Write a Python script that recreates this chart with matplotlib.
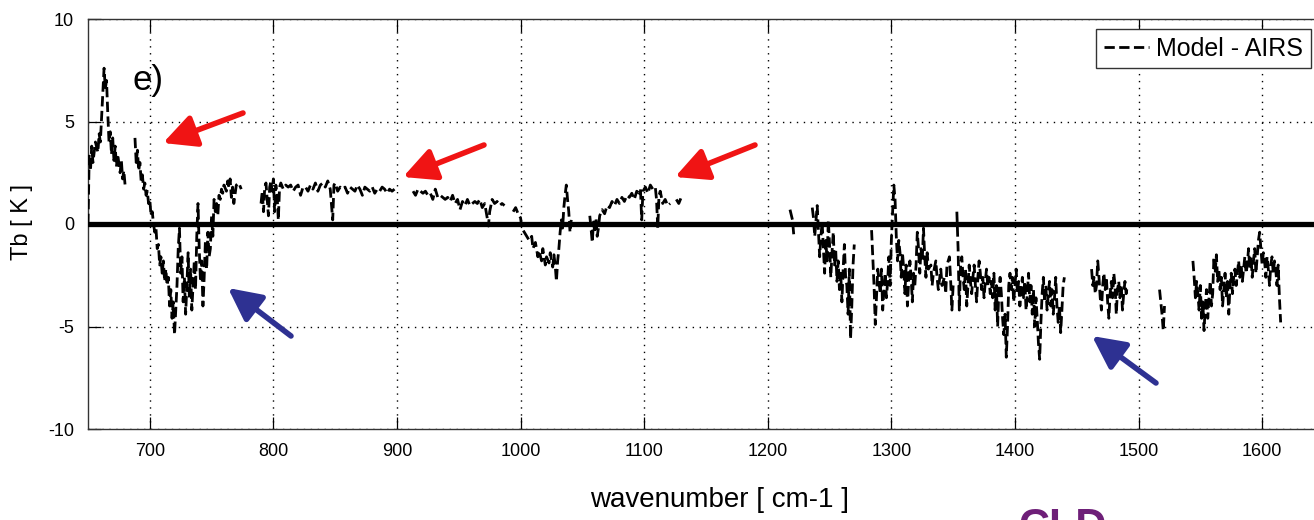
import numpy as np
import matplotlib
matplotlib.use("Agg")
import matplotlib.pyplot as plt

plt.rcParams["font.family"] = ["Liberation Sans", "DejaVu Sans"]
plt.rcParams["axes.unicode_minus"] = False

# Model - AIRS brightness temperature difference, one list pair per spectral band
b1_wn = [650, 651, 652, 653, 654, 656, 658, 659, 660, 661, 662, 663, 664, 665, 666, 667,
         668, 669, 670, 671, 672, 673, 674, 676, 677, 678, 679, 680]
b1_tb = [0.0, 3.4, 2.6, 3.8, 3.0, 4.0, 3.5, 4.4, 4.0, 5.2, 6.5, 7.6, 6.6, 7.0, 5.4, 4.0,
         4.5, 3.4, 4.2, 3.1, 3.8, 2.8, 3.4, 2.5, 3.1, 2.2, 2.6, 1.9]

b2_wn = [688, 689, 690, 691, 692, 693, 694, 695, 696, 697, 698, 699, 700, 701, 702, 703,
         704, 705, 706, 707, 708, 709, 710, 711, 712, 713, 714, 715, 716, 717, 718, 719,
         720, 721, 722, 723, 724, 725, 726, 727, 728, 729, 730, 731, 732, 733, 734, 735,
         736, 737, 738, 739, 740, 741, 742, 743, 744, 745, 746, 747, 748, 749, 750, 751,
         752, 753, 754, 755, 756, 757, 758, 759, 760, 762, 763, 764, 765, 766, 767, 768,
         770, 772, 774]
b2_tb = [4.2, 3.0, 3.6, 2.6, 3.0, 2.1, 2.4, 1.7, 2.0, 1.4, 1.6, 1.0, 1.2, 0.4, 0.6, 0.0,
         -0.4, -0.2, -1.2, -1.0, -2.0, -1.6, -2.4, -1.8, -2.8, -2.2, -3.0, -2.6, -4.0, -3.2, -4.6, -3.8,
         -5.4, -4.2, -3.0, -1.2, -0.2, -2.4, -1.6, -3.8, -2.6, -4.4, -3.0, -1.4, -3.6, -2.2, -4.2, -3.0,
         -1.8, -3.2, -0.6, 1.0, -1.2, -2.8, -1.8, -4.0, -2.6, -0.8, -2.2, -0.4, -1.6, -1.2, 0.4, -0.6,
         1.2, 0.6, 1.0, 0.4, 1.4, 1.2, 1.7, 1.5, 1.9, 1.6, 2.1, 1.8, 2.2, 1.3, 1.8, 1.0,
         1.9, 2.0, 1.7]

b3_wn = [790, 791, 792, 793, 794, 795, 796, 797, 798, 799, 800, 801, 802, 803, 804, 805,
         806, 808, 810, 812, 814, 816, 818, 820, 822, 824, 826, 828, 830, 832, 834, 836,
         838, 840, 842, 844, 846, 848, 849, 850, 852, 854, 856, 858, 860, 862, 864, 866,
         868, 870, 872, 874, 876, 878, 880, 882, 884, 886, 888, 890, 892, 894, 896, 898]
b3_tb = [1.0, 1.6, 0.6, 1.8, 2.0, 1.2, 0.4, 1.8, 2.1, 1.6, 2.2, 0.6, 1.9, 1.4, 0.2, 1.8,
         2.0, 1.7, 1.9, 1.8, 1.9, 1.6, 1.8, 1.9, 1.4, 1.8, 1.8, 1.6, 1.9, 1.7, 2.0, 1.6,
         1.9, 2.0, 1.8, 2.1, 1.7, 0.2, 1.9, 2.0, 1.6, 1.8, 1.7, 1.8, 1.5, 1.8, 1.7, 1.6,
         1.9, 1.7, 1.4, 1.8, 1.7, 1.6, 1.8, 1.5, 1.7, 1.6, 1.8, 1.7, 1.5, 1.7, 1.6, 1.7]

b4_wn = [913, 915, 917, 919, 921, 923, 925, 927, 929, 931, 933, 935, 937, 939, 941, 943,
         945, 947, 949, 951, 953, 955, 957, 959, 961, 963, 965, 967, 969, 971, 973, 974,
         975, 977, 979, 981, 983, 985, 987]
b4_tb = [1.6, 1.4, 1.7, 1.6, 1.5, 1.6, 1.4, 1.5, 1.2, 1.7, 1.3, 1.4, 1.3, 1.2, 1.3, 1.1,
         1.4, 1.0, 1.2, 0.7, 1.1, 0.9, 1.2, 0.9, 1.0, 1.1, 1.0, 1.2, 0.8, 1.0, 0.3, -0.1,
         0.6, 1.2, 1.0, 1.1, 0.9, 1.0, 0.9]

b5_wn = [994, 996, 998, 1000, 1001, 1003, 1005, 1007, 1009, 1010, 1012, 1014, 1015, 1017,
         1018, 1020, 1021, 1023, 1024, 1026, 1027, 1028, 1029, 1030, 1031, 1032, 1033, 1034,
         1035, 1036, 1037, 1038, 1039, 1040, 1041]
b5_tb = [0.6, 0.8, 0.5, 0.3, -0.2, -0.4, -0.6, -0.8, -0.6, -1.2, -0.9, -1.6, -1.3, -1.8,
         -1.2, -2.0, -1.6, -1.9, -1.4, -2.1, -1.5, -2.0, -2.8, -1.8, -1.2, -0.4, 0.2, -0.2,
         0.8, 1.4, 1.9, 1.2, 0.6, -0.4, 0.2]

b6_wn = [1056, 1057, 1058, 1059, 1060, 1061, 1062, 1063, 1064, 1066, 1068, 1070, 1072, 1074,
         1076, 1078, 1080, 1082, 1084, 1086, 1088, 1090, 1092, 1094, 1096, 1097, 1098, 1099,
         1101, 1103, 1105, 1107, 1109, 1110, 1111, 1112, 1113, 1115, 1117, 1119, 1121]
b6_tb = [0.4, -0.2, -0.9, 0.1, -0.4, 0.3, -0.6, -0.2, 0.4, 0.7, 0.5, 0.9, 0.8, 1.1,
         0.9, 1.2, 1.0, 1.3, 1.1, 1.4, 1.3, 1.5, 1.2, 1.6, 1.5, 1.7, 0.2, 1.6,
         1.8, 1.5, 1.9, 1.7, 1.8, 1.2, -0.2, 1.4, 1.6, 1.0, 1.2, 0.9, 1.0]

b7_wn = [1126, 1128, 1130]
b7_tb = [1.2, 1.0, 1.3]

b8_wn = [1218, 1220, 1221]
b8_tb = [0.7, 0.2, -0.5]

b9_wn = [1236, 1237, 1238, 1240, 1241, 1242, 1243, 1244, 1245, 1246, 1247, 1248, 1249, 1250,
         1251, 1252, 1253, 1254, 1255, 1256, 1257, 1258, 1259, 1260, 1261, 1262, 1263, 1264,
         1265, 1266, 1267, 1268, 1269, 1270]
b9_tb = [0.8, 0.3, -0.6, 0.9, -0.4, -1.6, -0.6, 0.1, -1.2, -2.4, -0.8, -1.8, 0.2, -1.0,
         -2.6, -1.4, -0.4, -2.0, -1.3, -2.8, -1.8, -3.2, -2.4, -3.8, -2.2, -1.0, -2.6, -3.0,
         -4.4, -2.2, -5.6, -4.0, -2.0, -1.0]

b10_wn = [1284, 1285, 1286, 1287, 1288, 1289, 1290, 1291, 1292, 1293, 1294, 1295, 1296, 1297,
          1298, 1299, 1300, 1301, 1302, 1303, 1304, 1305, 1306, 1307, 1308, 1309, 1310, 1311,
          1312, 1313, 1314, 1315, 1316, 1317, 1318, 1319, 1320, 1321, 1322, 1323, 1324, 1325,
          1326, 1327, 1328, 1329, 1330, 1332, 1333, 1334, 1336, 1337, 1338, 1340, 1341, 1343,
          1344, 1345, 1347, 1348, 1349, 1350]
b10_tb = [-0.3, -1.6, -3.0, -4.9, -3.6, -2.2, -2.8, -3.4, -2.2, -4.2, -3.2, -2.4, -3.6, -2.8,
          -1.6, -3.0, -0.8, 0.6, 1.9, 1.2, -0.6, -1.8, -0.8, -1.4, -2.6, -1.4, -2.2, -3.4,
          -2.0, -4.0, -2.8, -1.8, -2.6, -3.8, -2.4, -3.0, -2.0, -0.4, -1.2, -2.4, -1.2, -1.8,
          -0.2, -1.6, -2.6, -1.4, -2.2, -2.0, -3.0, -2.4, -1.8, -2.6, -3.2, -2.2, -3.0, -2.6,
          -3.4, -2.0, -1.6, -2.8, -4.2, -3.0]

b11_wn = [1353, 1354, 1355, 1356, 1357, 1358, 1359, 1360, 1361, 1362, 1363, 1364, 1365, 1366,
          1367, 1368, 1369, 1370, 1371, 1372, 1373, 1374, 1375, 1376, 1377, 1378, 1379, 1380,
          1381, 1382, 1383, 1384, 1385, 1386, 1387, 1388, 1389, 1390, 1391, 1392, 1393, 1394,
          1395, 1396, 1397, 1398, 1399, 1400, 1401, 1402, 1403, 1404, 1405, 1406, 1407, 1408,
          1409, 1410, 1411, 1412, 1413, 1414, 1415, 1416, 1417, 1418, 1419, 1420, 1421, 1422,
          1423, 1424, 1425, 1426, 1427, 1428, 1429, 1430, 1431, 1432, 1433, 1434, 1435, 1436,
          1437, 1438, 1439, 1440]
b11_tb = [0.6, -1.2, -4.2, -2.0, -1.6, -2.6, -3.2, -2.2, -4.0, -3.0, -2.0, -2.8, -3.4, -2.6,
          -2.0, -3.0, -3.8, -2.6, -1.8, -2.4, -3.2, -2.6, -3.6, -2.8, -2.2, -3.0, -2.6, -3.4,
          -2.8, -3.6, -2.4, -4.2, -3.0, -5.0, -3.2, -2.6, -3.4, -4.6, -5.4, -4.4, -6.5, -5.0,
          -3.0, -2.4, -3.2, -2.6, -3.8, -3.0, -2.2, -3.4, -2.8, -4.0, -3.2, -2.6, -3.6, -2.8,
          -4.2, -3.4, -2.4, -3.8, -3.0, -4.4, -3.2, -5.0, -3.6, -4.6, -5.8, -6.6, -4.8, -3.4,
          -2.6, -3.8, -3.0, -4.2, -3.4, -2.8, -4.0, -3.2, -4.4, -3.6, -2.6, -4.0, -4.8, -4.0,
          -5.3, -4.2, -3.0, -2.6]

b12_wn = [1462, 1463, 1464, 1465, 1466, 1467, 1468, 1469, 1470, 1471, 1472, 1473, 1474, 1475,
          1476, 1477, 1478, 1479, 1480, 1481, 1482, 1483, 1484, 1485, 1486, 1487, 1488, 1489,
          1490, 1491]
b12_tb = [-2.2, -3.0, -2.6, -3.4, -3.0, -1.8, -2.6, -3.6, -4.2, -3.0, -2.4, -3.2, -2.6, -3.8,
          -4.6, -3.4, -2.8, -3.6, -2.4, -3.0, -4.4, -3.2, -2.8, -3.6, -3.0, -4.2, -3.4, -2.8,
          -3.4, -3.0]

b13_wn = [1517, 1518, 1519, 1520, 1521]
b13_tb = [-3.2, -3.8, -4.4, -5.2, -4.0]

b14_wn = [1544, 1545, 1546, 1547, 1548, 1549, 1550, 1551, 1552, 1553, 1554, 1555, 1556, 1557,
          1558, 1559, 1560, 1561, 1562, 1563, 1564, 1565, 1566, 1567, 1568, 1569, 1570, 1571,
          1572, 1573, 1574, 1575, 1576, 1577, 1578, 1579, 1580, 1581, 1582, 1583, 1584, 1585,
          1586, 1587, 1588, 1589, 1590, 1591, 1592, 1593, 1594, 1595, 1596, 1597, 1598, 1599,
          1600, 1601, 1602, 1603, 1604, 1605, 1606, 1607, 1608, 1609, 1610, 1611, 1612, 1613,
          1614, 1615]
b14_tb = [-1.8, -2.6, -3.6, -2.8, -3.4, -4.2, -3.0, -4.6, -3.8, -5.2, -4.0, -3.2, -4.6, -3.6,
          -2.8, -4.0, -3.4, -1.6, -2.4, -1.5, -2.8, -2.2, -3.2, -2.6, -4.0, -3.2, -2.4, -3.6,
          -2.8, -4.4, -3.0, -2.4, -3.4, -2.6, -2.2, -3.0, -2.4, -1.8, -2.6, -2.0, -2.8, -2.2,
          -1.6, -2.4, -2.0, -1.2, -2.2, -1.6, -2.6, -1.8, -1.2, -2.4, -1.6, -0.8, -0.4, -1.2,
          -2.0, -1.4, -1.8, -2.6, -1.6, -2.2, -3.0, -2.0, -1.6, -2.4, -1.8, -2.2, -3.0, -2.0,
          -3.6, -4.8]

bands = [(b1_wn, b1_tb), (b2_wn, b2_tb), (b3_wn, b3_tb), (b4_wn, b4_tb), (b5_wn, b5_tb),
         (b6_wn, b6_tb), (b7_wn, b7_tb), (b8_wn, b8_tb), (b9_wn, b9_tb), (b10_wn, b10_tb),
         (b11_wn, b11_tb), (b12_wn, b12_tb), (b13_wn, b13_tb), (b14_wn, b14_tb)]

# join bands into one series, NaN breaks the line between bands
wn, tb = [], []
for x, y in bands:
    wn += list(x) + [np.nan]
    tb += list(y) + [np.nan]
wn = np.array(wn)
tb = np.array(tb)

W, H = 1314, 520
fig = plt.figure(figsize=(W / 100, H / 100), dpi=100)
ax = fig.add_axes([88 / W, 91 / H, 1273 / W, 410 / H])

ax.plot(wn, tb, color="black", linestyle="--", linewidth=2.0, label="Model - AIRS", zorder=3)
ax.axhline(0, color="black", linewidth=3.8, zorder=4)

ax.set_xlim(650, 1680)
ax.set_ylim(-10, 10)
ax.set_xticks(range(700, 1601, 100))
ax.set_yticks([-10, -5, 0, 5, 10])
ax.grid(True, color="black", linestyle=(0, (1, 4)), linewidth=1.0)
ax.tick_params(direction="in", length=9, width=0.9, top=True, right=False, labelsize=13, pad=10)
for s in ax.spines.values():
    s.set_color("#333333")
    s.set_linewidth(1.0)

ax.text(686, 7.0, "e)", fontsize=25, va="center", ha="left")

fig.text(22 / W, 1 - 222 / H, "Tb [ K ]", rotation=90, fontsize=17, ha="center", va="center")
fig.text(720 / W, 1 - 500 / H, "wavenumber [ cm-1 ]", fontsize=20, ha="center", va="center")
fig.text(1018 / W, 1 - 507 / H, "CLD", fontsize=31, fontweight="bold", color="#6e1f78",
         ha="left", va="top")

leg = ax.legend(loc="upper left", bbox_to_anchor=(1096 / W, 1 - 29 / H),
                bbox_transform=fig.transFigure, borderaxespad=0, fancybox=False,
                framealpha=1, edgecolor="#333333", fontsize=18, handlelength=1.8,
                handletextpad=0.3, borderpad=0.3)
leg.get_frame().set_linewidth(1.0)

# highlight arrows (figure pixel coordinates, origin bottom-left)
red_arrows = [((243, 113), (163, 143)), ((484, 145), (403, 177)), ((755, 145), (675, 177))]
blue_arrows = [((291, 336), (228, 288)), ((1156, 383), (1092, 336))]
for color, arrows in (("#f01414", red_arrows), ("#2e3192", blue_arrows)):
    for (x0, y0), (x1, y1) in arrows:
        ax.annotate("", xy=(x1, H - y1), xytext=(x0, H - y0),
                    xycoords="figure pixels", textcoords="figure pixels",
                    arrowprops=dict(arrowstyle="-|>,head_length=0.9,head_width=0.45",
                                    color=color, lw=4, shrinkA=0, shrinkB=0,
                                    mutation_scale=22), zorder=6)

fig.savefig("out.png", dpi=100)
plt.close(fig)
